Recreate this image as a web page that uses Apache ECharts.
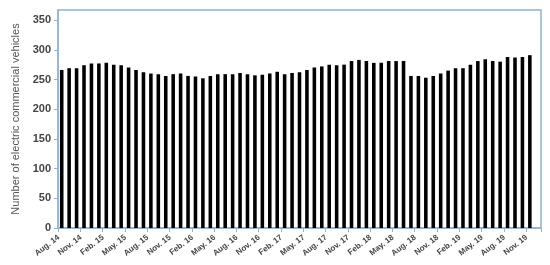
<!DOCTYPE html>
<html>
<head>
<meta charset="utf-8">
<script src="https://cdn.jsdelivr.net/npm/echarts@6/dist/echarts.min.js"></script>
<style>html,body{margin:0;padding:0;background:#fff}#c{width:550px;height:265px}</style>
</head>
<body>
<div id="c"></div>
<script>
var months = ['Aug. 14','Sep. 14','Oct. 14','Nov. 14','Dec. 14','Jan. 15','Feb. 15','Mar. 15','Apr. 15','May. 15','Jun. 15','Jul. 15',
'Aug. 15','Sep. 15','Oct. 15','Nov. 15','Dec. 15','Jan. 16','Feb. 16','Mar. 16','Apr. 16','May. 16','Jun. 16','Jul. 16',
'Aug. 16','Sep. 16','Oct. 16','Nov. 16','Dec. 16','Jan. 17','Feb. 17','Mar. 17','Apr. 17','May. 17','Jun. 17','Jul. 17',
'Aug. 17','Sep. 17','Oct. 17','Nov. 17','Dec. 17','Jan. 18','Feb. 18','Mar. 18','Apr. 18','May. 18','Jun. 18','Jul. 18',
'Aug. 18','Sep. 18','Oct. 18','Nov. 18','Dec. 18','Jan. 19','Feb. 19','Mar. 19','Apr. 19','May. 19','Jun. 19','Jul. 19',
'Aug. 19','Sep. 19','Oct. 19','Nov. 19','Dec. 19'];
var vehicles = [266,269,269,274,277,277,278,275,274,270,266,262,
260,259,256,259,260,256,255,252,256,259,259,259,
261,259,257,258,260,263,259,261,262,266,270,272,
275,274,275,281,283,281,278,278,281,281,281,256,
256,253,256,260,265,269,269,275,281,284,281,280,
288,287,288,291,null];
var yTicks = {min:0, max:367, interval:50};
var yName = 'Number of electric commercial vehicles';

var frame = '#93b3cf';
var chart = echarts.init(document.getElementById('c'));
chart.setOption({
  animation:false,
  grid:{left:58, top:10, right:9, bottom:37, show:true, borderColor:frame, borderWidth:1.5, backgroundColor:'transparent'},
  xAxis:{
    type:'category', data:months, boundaryGap:true,
    axisLine:{lineStyle:{color:frame, width:1.5}},
    axisTick:{show:true, interval:2, alignWithLabel:false, length:4, lineStyle:{color:frame}},
    axisLabel:{interval:2, rotate:38, margin:6, fontSize:8, fontWeight:'bold', color:'#444',
      fontFamily:'Liberation Sans, Arial, sans-serif', padding:[0,4,0,0]}
  },
  yAxis:{
    type:'value', min:yTicks.min, max:yTicks.max, interval:yTicks.interval,
    name:yName, nameLocation:'middle', nameGap:36, nameRotate:90,
    nameTextStyle:{fontSize:11, color:'#555', fontFamily:'Liberation Sans, Arial, sans-serif'},
    axisLine:{show:true, lineStyle:{color:frame, width:1.5}},
    axisTick:{show:true, length:4, lineStyle:{color:frame}},
    splitLine:{show:false},
    axisLabel:{showMaxLabel:false, fontSize:11, fontWeight:'bold', color:'#444', margin:7,
      fontFamily:'Liberation Sans, Arial, sans-serif'}
  },
  series:[{type:'bar', data:vehicles, barWidth:'48%', itemStyle:{color:'#000'}}]
});
</script>
</body>
</html>
